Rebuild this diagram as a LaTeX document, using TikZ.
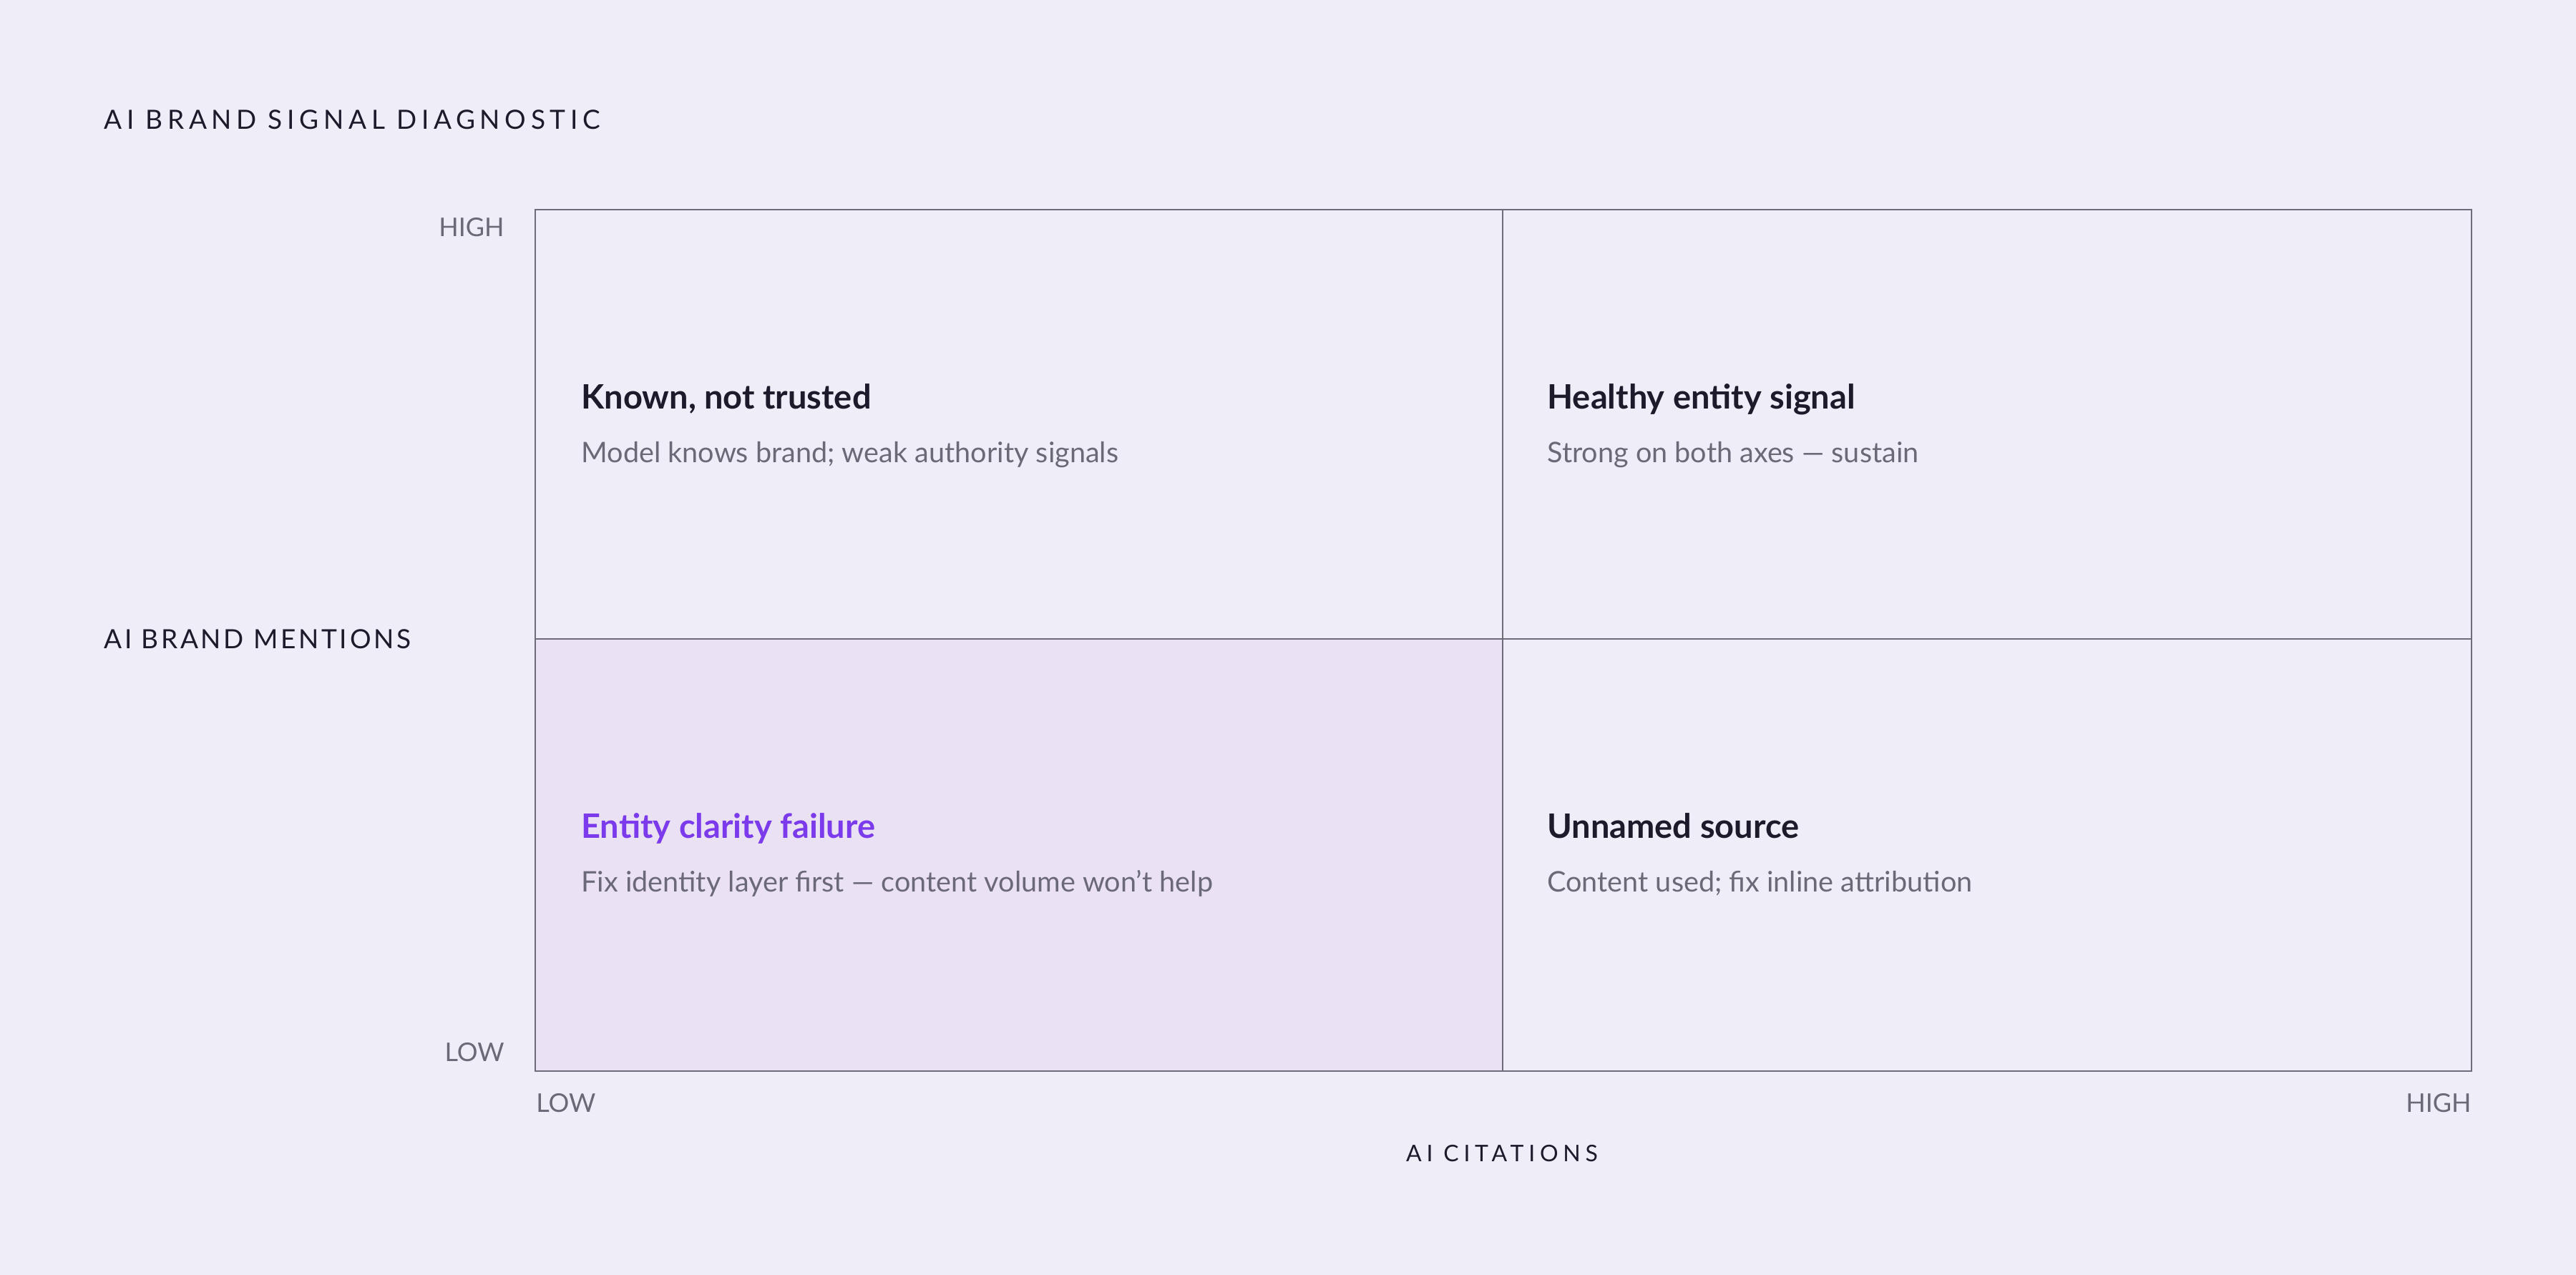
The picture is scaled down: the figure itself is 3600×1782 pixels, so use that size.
\documentclass[tikz,border=0pt]{standalone}
\usepackage{fontspec}
\setmainfont{Lato}
\newfontfamily\titlefont[LetterSpace=18]{Lato}
\newfontfamily\mentionfont[LetterSpace=10]{Lato}
\newfontfamily\citefont[LetterSpace=21]{Lato}
\definecolor{bgcol}{HTML}{EFEDF7}
\definecolor{quadfill}{HTML}{EAE2F4}
\definecolor{gridline}{HTML}{6E6B7B}
\definecolor{ink}{HTML}{1C1A2B}
\definecolor{muted}{HTML}{6B6878}
\definecolor{accent}{HTML}{7C3AED}
\tikzset{
  txt/.style={inner sep=0pt, anchor=base west},
  heading/.style={txt, font=\fontsize{23.5}{28}\selectfont\bfseries, text=ink},
  sub/.style={txt, font=\fontsize{19.8}{23}\selectfont, text=muted},
  axis/.style={txt, text=ink},
  tick/.style={inner sep=0pt, font=\fontsize{18}{21}\selectfont, text=muted},
  gridl/.style={draw=gridline, line width=1.25pt}
}
\begin{document}
\begin{tikzpicture}[x=0.5pt, y=-0.5pt]
  \fill[bgcol] (0,0) rectangle (3600,1782);
  \useasboundingbox (0,0) rectangle (3600,1782);
  % highlighted quadrant
  \fill[quadfill] (748,893) rectangle (2100,1497);
  % grid
  \coordinate (tl) at (748,293);
  \coordinate (br) at (3454,1497);
  \coordinate (mt) at (2100,293);
  \coordinate (mb) at (2100,1497);
  \coordinate (ml) at (748,893);
  \coordinate (mr) at (3454,893);
  \draw[gridl] (tl) rectangle (br);
  \draw[gridl] (mt) -- (mb);
  \draw[gridl] (ml) -- (mr);
  % titles
  \node[axis, font=\titlefont\fontsize{18.5}{22}\selectfont] (title) at (145,181) {AI BRAND SIGNAL DIAGNOSTIC};
  \node[axis, font=\mentionfont\fontsize{18.5}{22}\selectfont] (ylab) at (145,906) {AI BRAND MENTIONS};
  \node[axis, anchor=base, font=\citefont\fontsize{16}{19}\selectfont] (xlab) at (2099,1623) {AI CITATIONS};
  % ticks
  \node[tick, anchor=base east] (yhigh) at (705,330) {HIGH};
  \node[tick, anchor=base east] (ylow) at (705,1483) {LOW};
  \node[tick, anchor=base west] (xlow) at (749,1554) {LOW};
  \node[tick, anchor=base east] (xhigh) at (3454,1554) {HIGH};
  % quadrants
  \node[heading] (q1h) at (812,571) {Known, not trusted};
  \node[sub] (q1s) at (812,646) {Model knows brand; weak authority signals};
  \node[heading] (q2h) at (2162,571) {Healthy entity signal};
  \node[sub] (q2s) at (2162,646) {Strong on both axes — sustain};
  \node[heading, text=accent] (q3h) at (812,1171) {Entity clarity failure};
  \node[sub] (q3s) at (812,1246) {Fix identity layer first — content volume won't help};
  \node[heading] (q4h) at (2162,1171) {Unnamed source};
  \node[sub] (q4s) at (2162,1246) {Content used; fix inline attribution};
\end{tikzpicture}
\end{document}
